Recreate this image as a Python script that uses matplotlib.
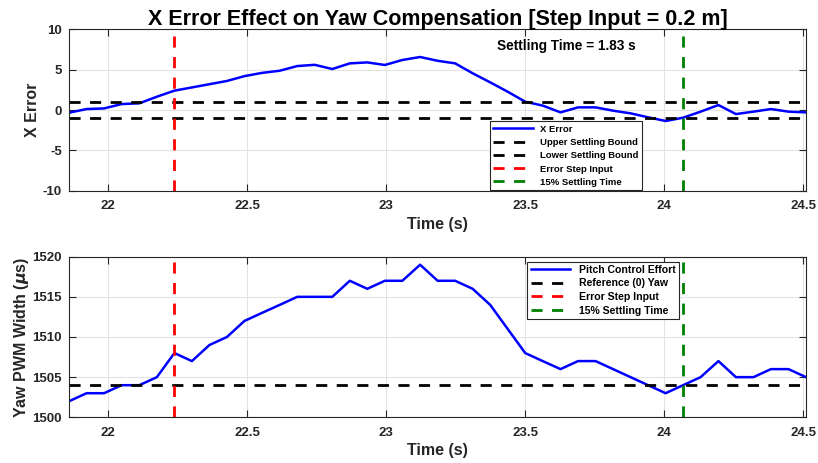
import numpy as np
import matplotlib.pyplot as plt

plt.rcParams['font.family'] = ['Liberation Sans', 'DejaVu Sans']
plt.rcParams['font.weight'] = 'bold'
plt.rcParams['mathtext.fontset'] = 'dejavusans'
plt.rcParams['axes.unicode_minus'] = False

# sample times (s)
time = [21.859, 21.922, 21.985, 22.048, 22.112, 22.175, 22.238, 22.301,
        22.364, 22.427, 22.490, 22.553, 22.617, 22.680, 22.743, 22.806,
        22.869, 22.932, 22.995, 23.058, 23.122, 23.185, 23.248, 23.311,
        23.374, 23.437, 23.500, 23.563, 23.627, 23.690, 23.753, 23.816,
        23.879, 23.942, 24.005, 24.068, 24.131, 24.195, 24.258, 24.321,
        24.384, 24.447, 24.510]

# x error
x_error = [-0.33, 0.12, 0.2, 0.74, 0.83, 1.65, 2.4, 2.8, 3.2, 3.6, 4.2,
           4.6, 4.87, 5.45, 5.6, 5.08, 5.78, 5.9, 5.58, 6.2, 6.57, 6.1,
           5.78, 4.55, 3.43, 2.27, 1.03, 0.55, -0.29, 0.33, 0.33, -0.08,
           -0.41, -0.9, -1.36, -0.95, -0.2, 0.62, -0.5, -0.2, 0.12, -0.2,
           -0.29]

# yaw pwm command (us)
yaw_pwm = [1502, 1503, 1503, 1504, 1504, 1505, 1508, 1507, 1509, 1510,
           1512, 1513, 1514, 1515, 1515, 1515, 1517, 1516, 1517, 1517,
           1519, 1517, 1517, 1516, 1514, 1511, 1508, 1507, 1506, 1507,
           1507, 1506, 1505, 1504, 1503, 1504, 1505, 1507, 1505, 1505,
           1506, 1506, 1505]

upper_bound = 1
lower_bound = -1
yaw_ref = 1504
step_time = 22.238
settle_time = 24.068

xlim = (time[0], time[-1])
xticks = [22, 22.5, 23, 23.5, 24, 24.5]
dash = (0, (4, 3.4))
txt = '#262626'

fig = plt.figure(figsize=(8.18, 4.63), dpi=100)
ax1 = fig.add_axes([0.0844, 0.588, 0.9009, 0.3487])
ax2 = fig.add_axes([0.0844, 0.0987, 0.9009, 0.3469])

def style(ax):
    ax.set_xlim(xlim)
    ax.set_xticks(xticks)
    ax.set_xticklabels(['22', '22.5', '23', '23.5', '24', '24.5'])
    ax.grid(True, color='#e3e3e3', linewidth=0.8)
    ax.set_axisbelow(True)
    ax.tick_params(direction='in', length=5.3, width=0.8, top=True, right=True,
                   labelsize=9.5, colors=txt)
    ax.tick_params(axis='x', pad=7)
    ax.tick_params(axis='y', pad=5)
    for s in ax.spines.values():
        s.set_color(txt)
        s.set_linewidth(0.8)
    ax.set_xlabel('Time (s)', fontsize=11.5, fontweight='bold', color=txt,
                  labelpad=3)

# X error plot
ax1.plot(time, x_error, color='blue', lw=1.8, label='X Error')
ax1.axhline(upper_bound, color='black', lw=2, ls=dash, label='Upper Settling Bound')
ax1.axhline(lower_bound, color='black', lw=2, ls=dash, label='Lower Settling Bound')
ax1.axvline(step_time, color='red', lw=2, ls=dash, label='Error Step Input')
ax1.axvline(settle_time, color='#008000', lw=2, ls=dash, label='15% Settling Time')
ax1.set_ylim(-10, 10)
ax1.set_yticks([-10, -5, 0, 5, 10])
style(ax1)
ax1.set_ylabel('X Error', fontsize=11.5, fontweight='bold', color=txt,
               labelpad=2)
ax1.set_title('X Error Effect on Yaw Compensation [Step Input = 0.2 m]',
              fontsize=15.5, fontweight='bold', pad=3)
ax1.text(0.675, 0.895, 'Settling Time = %.2f s' % (settle_time - step_time),
         transform=ax1.transAxes, ha='center', va='center', fontsize=9.8,
         fontweight='bold')
leg1 = ax1.legend(loc='lower left', bbox_to_anchor=(0.571, 0.004),
                  fontsize=6.8, handlelength=4.2, borderpad=0.35,
                  labelspacing=0.45, handletextpad=0.8, fancybox=False,
                  framealpha=1, edgecolor=txt, borderaxespad=0)
leg1.get_frame().set_linewidth(0.8)

# yaw pwm plot
ax2.plot(time, yaw_pwm, color='blue', lw=1.8, label='Pitch Control Effort')
ax2.axhline(yaw_ref, color='black', lw=2, ls=dash, label='Reference (0) Yaw')
ax2.axvline(step_time, color='red', lw=2, ls=dash, label='Error Step Input')
ax2.axvline(settle_time, color='#008000', lw=2, ls=dash, label='15% Settling Time')
ax2.set_ylim(1500, 1520)
ax2.set_yticks([1500, 1505, 1510, 1515, 1520])
style(ax2)
ax2.set_ylabel(r'Yaw PWM Width ($\mu$s)', fontsize=11.5, fontweight='bold',
               color=txt, labelpad=1)
leg2 = ax2.legend(loc='upper left', bbox_to_anchor=(0.622, 0.969),
                  fontsize=7.55, handlelength=3.8, borderpad=0.3,
                  labelspacing=0.35, handletextpad=0.8, fancybox=False,
                  framealpha=1, edgecolor=txt, borderaxespad=0)
leg2.get_frame().set_linewidth(0.8)

fig.savefig('out.png', dpi=100)
